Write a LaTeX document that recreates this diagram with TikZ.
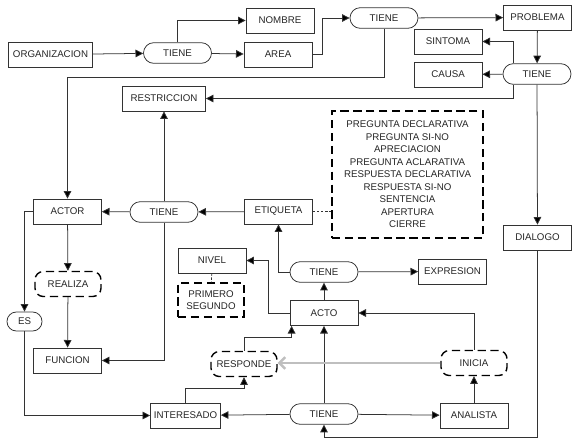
\documentclass[tikz,border=0pt]{standalone}
\usepackage{fontspec}
\setmainfont{Liberation Sans}
\usetikzlibrary{positioning, arrows.meta, calc}

\tikzset{
  caja/.style={draw=black!80, line width=0.65pt, fill=white, minimum width=2.04cm, minimum height=0.75cm, inner sep=0.1cm, font=\fontsize{8.3}{10.7}\selectfont, text=black!85},
  relacion/.style={caja, rounded corners=0.31cm, minimum height=0.62cm},
  proceso/.style={caja, draw=black, line width=1.2pt, dash pattern=on 7pt off 4pt, rounded corners=0.25cm, minimum width=1.98cm},
  lista/.style={caja, draw=black, line width=1.1pt, dash pattern=on 7pt off 4pt, align=center},
  flecha/.style={draw=black!80, line width=0.65pt, -{Triangle[length=6.5pt,width=6.5pt,fill=black]}},
  enlace/.style={draw=black!80, line width=0.65pt, dash pattern=on 2pt off 1.5pt},
  gris/.style={draw=black!25, line width=2pt, -{Straight Barb[length=5pt,width=10pt]}}
}

\begin{document}
\begin{tikzpicture}[x=0.03cm, y=-0.03cm]
\useasboundingbox (0,0) rectangle (580,444);

% fila superior
\node[caja, minimum width=2.52cm] (org) at (50.5,54.5) {ORGANIZACION};
\node[relacion] (tieneA) at (177.5,53) {TIENE};
\node[caja] (nombre) at (280,20.5) {NOMBRE};
\node[caja] (area) at (278,54.5) {AREA};
\node[relacion] (tieneB) at (384,18) {TIENE};
\node[caja] (problema) at (537.5,17.5) {PROBLEMA};
\node[caja] (sintoma) at (448,41.5) {SINTOMA};
\node[caja] (causa) at (448,74.5) {CAUSA};
\node[relacion] (tieneC) at (537,74) {TIENE};
\node[caja, minimum width=2.49cm] (restriccion) at (164,98.5) {RESTRICCION};

% etiquetas
\node[lista, minimum width=4.53cm, minimum height=3.81cm] (tipos) at (407.5,174.5) {PREGUNTA DECLARATIVA\\PREGUNTA SI-NO\\APRECIACION\\PREGUNTA ACLARATIVA\\RESPUESTA DECLARATIVA\\RESPUESTA SI-NO\\SENTENCIA\\APERTURA\\CIERRE};
\node[caja] (actor) at (67.5,211.5) {ACTOR};
\node[relacion] (tieneD) at (164,212) {TIENE};
\node[caja] (etiqueta) at (278.5,211.5) {ETIQUETA};
\node[caja] (dialogo) at (537.5,237.5) {DIALOGO};

% actos
\node[caja] (nivel) at (212,260.5) {NIVEL};
\node[lista, minimum width=1.98cm, minimum height=1.02cm, inner sep=0.05cm] (niveles) at (211,300) {PRIMERO\\SEGUNDO};
\node[relacion] (tieneE) at (324,272) {TIENE};
\node[caja] (expresion) at (452.5,271.5) {EXPRESION};
\node[caja] (acto) at (324,313) {ACTO};
\node[proceso] (realiza) at (68,284) {REALIZA};
\node[relacion, minimum width=1.05cm, minimum height=0.57cm, rounded corners=0.28cm] (es) at (24.5,321.5) {ES};
\node[caja] (funcion) at (67.5,360.5) {FUNCION};
\node[proceso] (responde) at (244,364) {RESPONDE};
\node[proceso] (inicia) at (474,363) {INICIA};

% participantes
\node[caja] (interesado) at (185.5,415.5) {INTERESADO};
\node[relacion] (tieneF) at (324,414) {TIENE};
\node[caja] (analista) at (474,415.5) {ANALISTA};

% conectores
\draw[flecha] (org) -- (tieneA);
\draw[flecha] (tieneA) -- (area);
\draw[flecha] (tieneA.north) |- (nombre.west);
\draw[flecha] (area.east) -- ++(10,0) |- (tieneB.west);
\draw[flecha] (tieneB) -- (problema);
\draw[flecha] (tieneB.south) -- ++(0,49) -| (actor.north);
\draw[flecha] (problema) -- (tieneC);
\draw[flecha] ($(tieneC.north west)+(11,0)$) |- (sintoma.east);
\draw[flecha] (tieneC) -- (causa);
\draw[flecha] ($(tieneC.south west)+(11,0)$) |- (restriccion.east);
\draw[flecha] (tieneC) -- (dialogo);
\draw[flecha] (dialogo.south) -- ++(0,187) -| (tieneF.south);
\draw[flecha] (etiqueta) -- (tieneD);
\draw[flecha] (tieneD) -- (actor);
\draw[flecha] (tieneD) -- (restriccion);
\draw[flecha] (tieneD.south) |- (funcion.east);
\draw[enlace] (etiqueta.east) -- (etiqueta.east -| tipos.west);
\draw[flecha] (actor) -- (realiza);
\draw[flecha] (realiza) -- (funcion);
\draw[flecha] (actor.west) -| (es.north);
\draw[flecha] (es.south) |- (interesado.west);
\draw[flecha] (tieneE.west) -| (etiqueta.south);
\draw[flecha] (tieneE) -- (expresion);
\draw[flecha] (acto) -- (tieneE);
\draw[flecha] (acto.west) -- ++(-21,0) |- (nivel.east);
\draw[enlace] (nivel) -- (niveles);
\draw[flecha] (inicia.north) |- (acto.east);
\draw[flecha] (analista) -- (inicia);
\draw[flecha] (tieneF) -- (analista);
\draw[flecha] (tieneF) -- (interesado);
\draw[flecha] (tieneF) -- (acto);
\draw[flecha] (interesado.north) -- ++(0,-14) -| (responde.south);
\draw[flecha] (responde.north) -- ++(0,-13) -| ($(acto.south west)+(2,0)$);
\draw[gris] (inicia.west) -- (inicia.west -| responde.east);
\end{tikzpicture}
\end{document}
